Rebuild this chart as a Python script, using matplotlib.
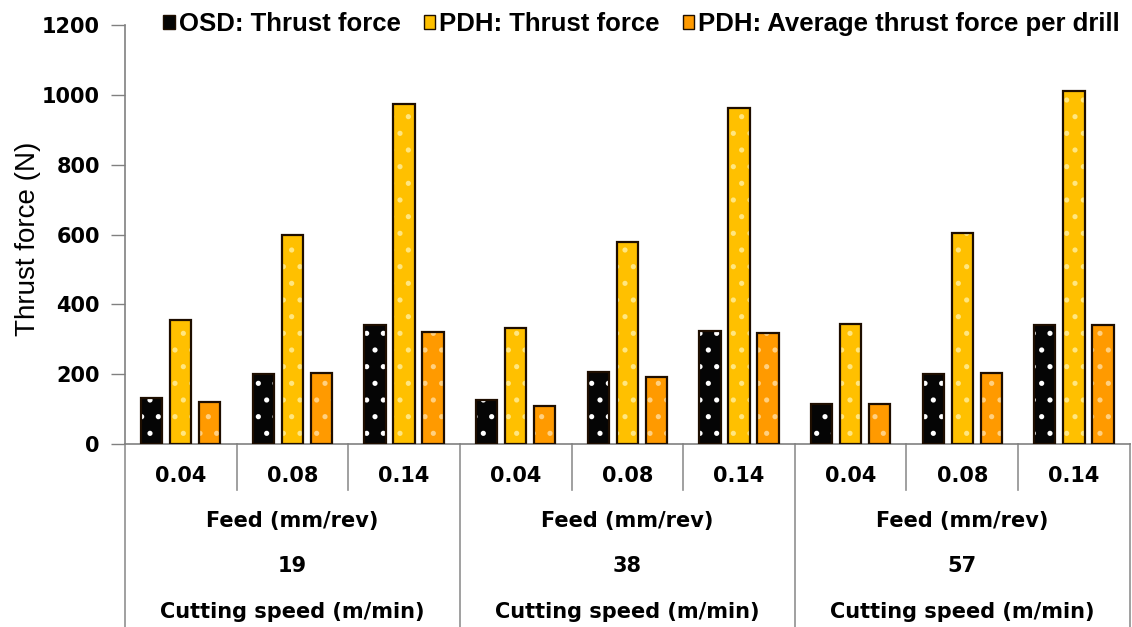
import numpy as np
import matplotlib.pyplot as plt

plt.rcParams['font.family'] = ['Liberation Sans', 'DejaVu Sans']
plt.rcParams['hatch.linewidth'] = 1.3

speeds = ['19', '38', '57']
feeds = ['0.04', '0.08', '0.14']
osd = [132, 200, 340, 125, 205, 323, 115, 200, 340]
pdh = [355, 600, 975, 333, 580, 963, 345, 605, 1010]
pdh_avg = [120, 203, 322, 108, 193, 318, 115, 203, 340]
series = ['OSD: Thrust force', 'PDH: Thrust force', 'PDH: Average thrust force per drill']
colors = ['#050505', '#FFC000', '#FF9A00']
dots = ['white', '#FFE680', '#FFD080']

fig = plt.figure(figsize=(11.32, 6.27), dpi=100)
ax = fig.add_axes([0.1104, 0.2919, 0.8876, 0.6681])

n = len(osd)
x = np.arange(n)
w = 0.19
offs = [-0.26, 0.0, 0.26]
handles = []
for vals, c, dc, off, lab in zip([osd, pdh, pdh_avg], colors, dots, offs, series):
    ax.bar(x + off, vals, w, color=c, edgecolor=dc, hatch='.', linewidth=0, zorder=2)
    ax.bar(x + off, vals, w, fill=False, edgecolor='#1e0e00', linewidth=1.6, zorder=3)
    handles.append(plt.Rectangle((0, 0), 1, 1, facecolor=c, edgecolor='#1e0e00',
                                 linewidth=1.0))

ax.set_xlim(-0.5, n - 0.5)
ax.set_ylim(0, 1200)
ax.set_yticks(np.arange(0, 1201, 200))
ax.tick_params(axis='y', labelsize=15, length=10, width=1, color='#808080', pad=8)
for t in ax.get_yticklabels():
    t.set_fontweight('bold')
    t.set_family('DejaVu Sans')
ax.set_xticks([])
for s in ['top', 'right']:
    ax.spines[s].set_visible(False)
for s in ['left', 'bottom']:
    ax.spines[s].set_color('#808080')
    ax.spines[s].set_linewidth(1.2)
ax.set_ylabel('Thrust force (N)', fontsize=20)
ax.yaxis.set_label_coords(-0.084, 0.49)

# category table under the axis
trans = ax.get_xaxis_transform()
gl = dict(color='#909090', lw=1.2, clip_on=False, transform=trans)
for i in range(n + 1):
    xe = i - 0.5
    if i % 3 == 0:
        ax.plot([xe, xe], [0, -0.58], **gl)
    else:
        ax.plot([xe, xe], [0, -0.11], **gl)
tk = dict(ha='center', va='center', fontsize=15, fontweight='bold',
          family='DejaVu Sans', transform=trans)
for i in range(n):
    ax.text(i, -0.076, feeds[i % 3], **tk)
for g, sp in enumerate(speeds):
    xc = 3 * g + 1
    ax.text(xc, -0.185, 'Feed (mm/rev)', **tk)
    ax.text(xc, -0.292, sp, **tk)
    ax.text(xc, -0.4, 'Cutting speed (m/min)', **tk)

leg = ax.legend(handles, series, loc='upper left', bbox_to_anchor=(0.028, 1.055),
                ncol=3, frameon=False, prop={'size': 18.5, 'weight': 'bold'},
                handlelength=0.45, handleheight=0.45, handletextpad=0.15,
                columnspacing=0.9, borderaxespad=0)

fig.savefig('out.png', dpi=100)
